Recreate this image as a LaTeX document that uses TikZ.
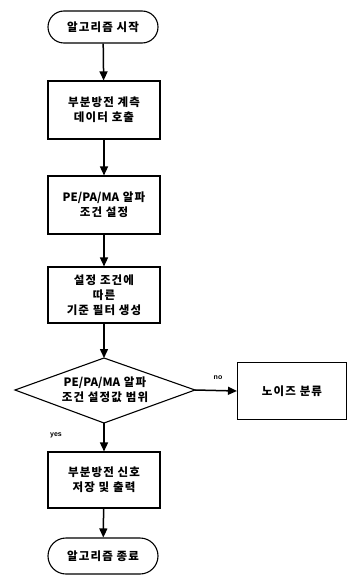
\documentclass[tikz,border=0pt]{standalone}
\usepackage{fontspec}
\setmainfont{Noto Sans CJK KR}[LetterSpace=10]
\newfontfamily\latfont{Noto Sans CJK KR}
\newfontfamily\lblfont{Liberation Sans}
\newcommand{\lat}[1]{{\latfont\bfseries #1}}
\usetikzlibrary{arrows.meta}
\tikzset{
  base/.style={draw=black, line width=1.1pt, font=\bfseries\fontsize{11.5}{15}\selectfont, align=center, inner sep=2pt},
  term/.style={base, minimum width=110pt, minimum height=32pt, rounded corners=16pt},
  proc/.style={base, minimum width=112pt, minimum height=58pt},
  dtext/.style={font=\bfseries\fontsize{11.5}{15}\selectfont, align=center, inner sep=0pt},
  dshape/.style={draw=black, line width=1.1pt, line join=miter},
  flow/.style={line width=1.5pt, -{Triangle[length=9pt,width=8pt]}},
  lbl/.style={font=\lblfont\bfseries\fontsize{7}{8}\selectfont, inner sep=1pt}
}
\begin{document}
\begin{tikzpicture}[x=1pt,y=-1pt]
\useasboundingbox (0,0) rectangle (350,578);
\node[term] (start) at (103,27) {알고리즘 시작};
\node[proc] (b1) at (104,110) {부분방전 계측\\데이터 호출};
\node[proc] (b2) at (104,205) {\lat{PE/PA/MA} 알파\\조건 설정};
\node[proc, minimum height=56pt] (b3) at (104,295) {설정 조건에\\따른\\기준 필터 생성};
\coordinate (dT) at (104,358);
\coordinate (dB) at (104,423);
\coordinate (dL) at (15,390);
\coordinate (dR) at (195,390);
\draw[dshape] (dT) -- (dR) -- (dB) -- (dL) -- cycle;
\node[dtext] (dia) at (105,390) {\lat{PE/PA/MA} 알파\\조건 설정값 범위};
\node[proc, minimum width=109pt, minimum height=57pt] (noise) at (292,391) {노이즈 분류};
\node[proc, minimum height=56pt] (b5) at (104,480) {부분방전 신호\\저장 및 출력};
\node[term, minimum height=36pt, rounded corners=18pt] (end) at (103,556) {알고리즘 종료};
\node[lbl] (no) at (218,378) {no};
\node[lbl] (yes) at (56,435) {yes};
\draw[flow] (start) -- (b1);
\draw[flow] (b1) -- (b2);
\draw[flow] (b2) -- (b3);
\draw[flow] (b3) -- (dT);
\draw[flow] (dR) -- (noise.west);
\draw[flow] (dB) -- (b5);
\draw[flow] (b5) -- (end);
\end{tikzpicture}
\end{document}
